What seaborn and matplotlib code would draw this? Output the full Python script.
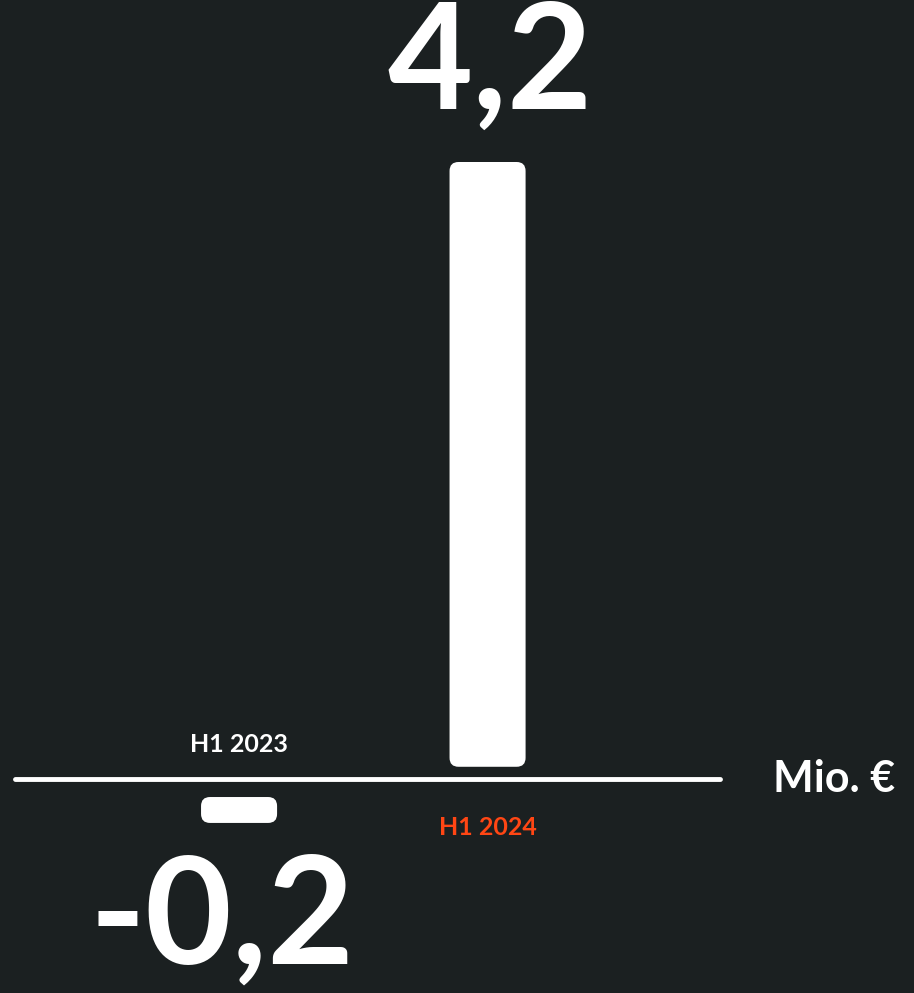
import numpy as np
import matplotlib
matplotlib.use('Agg')
import matplotlib.pyplot as plt
import pandas as pd
import seaborn as sns
from matplotlib.patches import FancyBboxPatch

sns.set_style('white')
plt.rcParams['font.family'] = ['Lato', 'DejaVu Sans']

# data
periods = ['H1 2023', 'H1 2024']
values = [-0.2, 4.2]
value_labels = ['-0,2', '4,2']
period_colors = ['#ffffff', '#ff4614']
unit_label = 'Mio. €'

bg = '#1b2021'
df = pd.DataFrame({'period': periods, 'value': values})

fig = plt.figure(figsize=(9.14, 9.93), dpi=100, facecolor=bg)
ax = fig.add_axes([0, 0, 1, 1])
ax.set_facecolor(bg)

sns.barplot(data=df, x='period', y='value', color='white', width=0.306, ax=ax)

# rounded bars with a small gap from the baseline
gap = {True: 0.085, False: -0.105}
for p, v in zip(list(ax.patches), values):
    x0, w = p.get_x(), p.get_width()
    off = gap[v > 0]
    y0 = min(0, v) + off
    h = abs(v) - (0.02 if v < 0 else 0)
    rb = FancyBboxPatch((x0, y0), w, h,
                        boxstyle='round,pad=0,rounding_size=0.036',
                        mutation_aspect=1.73,
                        facecolor='white', edgecolor='none')
    p.remove()
    ax.add_patch(rb)

ax.set_xlim(-0.962, 2.716)
ax.set_ylim(-1.486, 5.41)
ax.axhline(0, xmin=15 / 914, xmax=720 / 914, color='white', lw=3.5)

# value labels
ax.text(1.01, 4.95, value_labels[1], ha='center', va='center',
        fontsize=106, fontweight='bold', color='white')
ax.text(-0.07, -0.98, value_labels[0], ha='center', va='center',
        fontsize=108, fontweight='bold', color='white')

# period labels
ax.text(0, 0.24, periods[0], ha='center', va='center',
        fontsize=18, fontweight='bold', color=period_colors[0])
ax.text(1, -0.34, periods[1], ha='center', va='center',
        fontsize=18, fontweight='bold', color=period_colors[1])

ax.text(2.149, 0.0, unit_label, ha='left', va='center',
        fontsize=31, fontweight='bold', color='white')

ax.axis('off')
fig.savefig('out.png', dpi=100, facecolor=bg)
